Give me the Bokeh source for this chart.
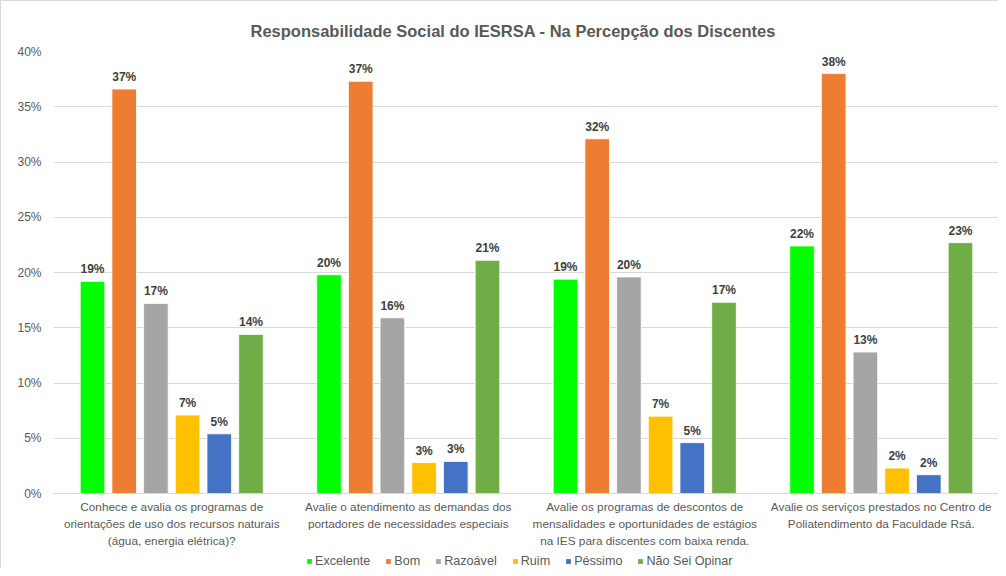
from bokeh.plotting import figure
from bokeh.layouts import column
from bokeh.models import (ColumnDataSource, FactorRange, Range1d, SingleIntervalTicker,
                          PrintfTickFormatter, Legend, LegendItem)
from bokeh.transform import dodge
from bokeh.core.properties import value
from bokeh.embed import file_html
from bokeh.resources import INLINE

title_text = "Responsabilidade Social do IESRSA - Na Percepção dos Discentes"

categories = [
    "Conhece e avalia os programas de\norientações de uso dos recursos naturais\n(água, energia elétrica)?",
    "Avalie o atendimento as demandas dos\nportadores de necessidades especiais",
    "Avalie os programas de descontos de\nmensalidades e oportunidades de estágios\nna IES para discentes com baixa renda.",
    "Avalie os serviços prestados no Centro de\nPoliatendimento da Faculdade Rsá.",
]

series = ["Excelente", "Bom", "Razoável", "Ruim", "Péssimo", "Não Sei Opinar"]
colors = ["#00FF00", "#ED7D31", "#A5A5A5", "#FFC000", "#4472C4", "#70AD47"]

excelente = [19.2, 19.8, 19.4, 22.4]
bom = [36.6, 37.3, 32.1, 38.0]
razoavel = [17.2, 15.9, 19.6, 12.8]
ruim = [7.1, 2.8, 7.0, 2.3]
pessimo = [5.4, 2.9, 4.6, 1.7]
nao_sei = [14.4, 21.1, 17.3, 22.7]

values = [excelente, bom, razoavel, ruim, pessimo, nao_sei]

y_ticks_step = 5
y_max = 40

FONT = "Liberation Sans"
GRAY = "#595959"
W = 998

p = figure(
    x_range=FactorRange(*categories, range_padding=0),
    y_range=Range1d(0, y_max),
    width=W, height=549,
    output_backend="svg", toolbar_location=None,
    min_border_left=52, min_border_right=0, min_border_top=50, min_border_bottom=54,
)
p.styles = {"border-left": "1px solid #d9d9d9", "border-top": "1px solid #d9d9d9"}

p.title.text = title_text
p.title.align = "left"
p.title.text_font = FONT
p.title.text_font_size = "16.5px"
p.title.text_font_style = "bold"
p.title.text_color = GRAY
p.title.offset = 197
p.title.standoff = 24

p.outline_line_color = None
p.background_fill_color = "white"
p.border_fill_color = "white"

p.xgrid.grid_line_color = None
p.ygrid.grid_line_color = "#D9D9D9"
p.ygrid.grid_line_width = 1

p.yaxis.ticker = SingleIntervalTicker(interval=y_ticks_step)
p.yaxis.formatter = PrintfTickFormatter(format="%d%%")
p.yaxis.axis_line_color = None
p.yaxis.major_tick_line_color = None
p.yaxis.minor_tick_line_color = None
p.yaxis.major_label_text_font = FONT
p.yaxis.major_label_text_font_size = "12px"
p.yaxis.major_label_text_color = GRAY
p.yaxis.major_label_standoff = 6

p.xaxis.axis_line_color = "#D9D9D9"
p.xaxis.major_tick_line_color = None
p.xaxis.minor_tick_line_color = None
p.xaxis.major_label_text_font = FONT
p.xaxis.major_label_text_font_size = "11.8px"
p.xaxis.major_label_text_color = GRAY
p.xaxis.major_label_text_line_height = 1.22
p.xaxis.major_label_standoff = 0

# legend strip: a small axis-less figure below the chart; its swatch renderers
# use the same series data, but its y-range keeps those bars far out of view.
p2 = figure(width=W, height=19, x_range=p.x_range, y_range=Range1d(1000, 1001),
            output_backend="svg", toolbar_location=None,
            x_axis_location=None, y_axis_location=None,
            min_border_left=0, min_border_right=0, min_border_top=0, min_border_bottom=0)
p2.styles = {"border-left": "1px solid #d9d9d9"}
p2.grid.visible = False
p2.outline_line_color = None
p2.background_fill_color = "white"
p2.border_fill_color = "white"

step = 0.134
bar_w = 0.104
items = []
for i, (name, col, vals) in enumerate(zip(series, colors, values)):
    off = (i - 2.5) * step
    src = ColumnDataSource(dict(cat=categories, v=vals, lbl=["%.0f%%" % v for v in vals]))
    p.vbar(x=dodge("cat", off, range=p.x_range), top="v", width=bar_w, source=src,
           fill_color=col, line_color="white", line_width=0.8)
    p.text(x=dodge("cat", off, range=p.x_range), y="v", text="lbl", source=src,
           text_align="center", text_baseline="bottom", y_offset=-5,
           text_font=value(FONT), text_font_size="12px", text_font_style="bold",
           text_color="#404040")
    swatch = p2.vbar(x=dodge("cat", off, range=p.x_range), top="v", width=bar_w, source=src,
                     fill_color=col, line_color=None)
    items.append(LegendItem(label=name, renderers=[swatch]))

legend = Legend(items=items, orientation="horizontal", location=(253, 0),
                glyph_width=6, glyph_height=6, label_standoff=3, spacing=15,
                padding=2, margin=0, border_line_color=None, background_fill_alpha=0,
                label_height=14,
                label_text_font=FONT, label_text_font_size="12.6px", label_text_color=GRAY)
p2.add_layout(legend, "center")

layout = column(p, p2, spacing=0)
open("out.html", "w").write(file_html(layout, INLINE))
